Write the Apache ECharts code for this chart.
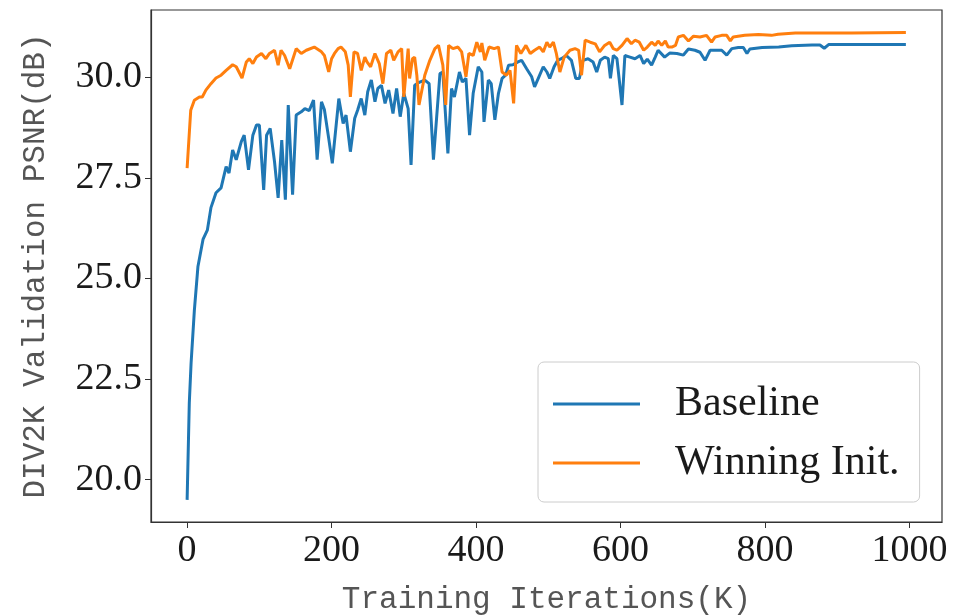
<!DOCTYPE html>
<html>
<head>
<meta charset="utf-8">
<script src="https://cdn.jsdelivr.net/npm/echarts@6/dist/echarts.min.js"></script>
<style>
  html, body { margin: 0; padding: 0; background: #fff; }
  #chart { width: 958px; height: 615px; }
</style>
</head>
<body>
<div id="chart"></div>
<script>
// training iterations (K) and validation PSNR (dB)
const baselineIters = [
  0, 3, 5.5, 10, 15, 22, 28, 33, 40, 47, 54, 58, 63, 68, 75, 79, 85, 91, 96, 100,
  106, 110, 115, 121, 126, 131, 136, 140, 146, 151, 158, 163, 169, 175, 180, 186, 190, 196, 201, 210,
  216, 220, 226, 232, 236, 241, 246, 250, 255, 260, 264, 269, 274, 279, 285, 290, 295, 300, 306, 310,
  315, 322, 329, 335, 341, 350, 354, 361, 366, 370, 377, 381, 386, 391, 396, 403, 408, 411, 417, 421,
  426, 431, 436, 441, 445, 451, 458, 463, 470, 477, 481, 487, 493, 498, 502, 508, 513, 518, 525, 532,
  538, 543, 548, 555, 562, 567, 572, 578, 583, 586, 590, 595, 598, 602, 606, 613, 620, 627, 632, 637,
  643, 648, 652, 661, 668, 678, 687, 694, 703, 710, 717, 724, 733, 740, 747, 754, 763, 770, 775, 779,
  796, 819, 837, 865, 876, 882, 888, 995
];
const baselinePsnr = [
  19.5, 21.9, 22.9, 24.2, 25.3, 25.97, 26.2, 26.76, 27.13, 27.25, 27.78, 27.62, 28.19, 27.95, 28.4, 28.56, 27.7, 28.56, 28.81, 28.81,
  27.2, 28.56, 28.73, 27.9, 27.0, 28.44, 26.96, 29.31, 27.08, 29.06, 29.14, 29.22, 29.17, 29.43, 27.95, 29.39, 29.2, 28.48, 27.86, 29.47,
  28.85, 29.06, 28.15, 28.98, 29.18, 29.47, 29.06, 29.64, 29.93, 29.39, 29.72, 29.8, 29.35, 29.68, 29.1, 29.72, 29.02, 29.6, 29.22, 27.82,
  29.8, 29.88, 29.93, 29.84, 27.95, 30.09, 30.13, 28.11, 29.72, 29.51, 30.13, 29.88, 29.97, 28.56, 29.6, 30.26, 30.13, 28.89, 29.93, 29.84,
  28.94, 29.6, 29.97, 30.05, 30.3, 30.31, 30.38, 30.42, 30.21, 30.01, 29.76, 30.01, 30.26, 30.13, 29.97, 30.26, 30.42, 30.46, 30.54, 30.42,
  29.97, 29.97, 30.42, 30.46, 30.38, 30.13, 30.42, 30.5, 30.46, 29.97, 30.54, 30.46, 29.97, 29.31, 30.54, 30.5, 30.46, 30.54, 30.34, 30.45,
  30.3, 30.5, 30.67, 30.5, 30.6, 30.59, 30.55, 30.7, 30.67, 30.62, 30.42, 30.67, 30.67, 30.67, 30.55, 30.71, 30.74, 30.74, 30.59, 30.7,
  30.74, 30.75, 30.78, 30.8, 30.8, 30.72, 30.81, 30.81
];
const winningIters = [
  0, 5, 10, 17, 21, 26, 33, 40, 47, 54, 63, 68, 76, 82, 86, 91, 96, 103, 109, 114,
  121, 126, 130, 135, 142, 151, 158, 165, 176, 186, 190, 196, 200, 204, 209, 213, 219, 223, 226, 231,
  236, 241, 246, 249, 254, 260, 266, 271, 276, 282, 286, 292, 297, 300, 306, 308, 312, 315, 318, 321,
  329, 336, 343, 348, 354, 358, 362, 368, 375, 380, 386, 390, 396, 401, 406, 408, 412, 418, 425, 431,
  436, 442, 447, 452, 456, 462, 469, 475, 481, 488, 493, 498, 502, 507, 511, 516, 522, 530, 537, 542,
  546, 551, 558, 565, 571, 578, 585, 590, 595, 602, 609, 615, 620, 626, 632, 637, 643, 648, 652, 657,
  662, 666, 671, 676, 680, 687, 694, 701, 710, 719, 726, 731, 740, 747, 752, 756, 772, 791, 809, 818,
  842, 874, 920, 995
];
const winningPsnr = [
  27.74, 29.18, 29.43, 29.51, 29.51, 29.68, 29.84, 29.98, 30.05, 30.17, 30.31, 30.26, 29.98, 30.38, 30.46, 30.34, 30.5, 30.59, 30.46, 30.59,
  30.67, 30.3, 30.67, 30.54, 30.21, 30.71, 30.59, 30.67, 30.75, 30.63, 30.54, 30.13, 30.46, 30.59, 30.71, 30.75, 30.63, 30.3, 29.51, 30.63,
  30.59, 30.17, 30.5, 30.38, 30.26, 30.59, 30.34, 29.84, 30.59, 30.67, 30.42, 30.63, 30.71, 29.51, 30.71, 29.97, 30.46, 30.5, 30.05, 29.31,
  30.05, 30.42, 30.71, 30.79, 30.3, 29.31, 30.79, 30.71, 30.75, 30.63, 30.01, 30.59, 30.54, 30.87, 30.63, 30.85, 30.42, 30.75, 30.71, 30.75,
  30.13, 30.05, 30.17, 29.35, 30.79, 30.59, 30.79, 30.59, 30.67, 30.75, 30.63, 30.87, 30.75, 30.87, 30.6, 30.13, 30.5, 30.67, 30.71, 30.67,
  30.05, 30.92, 30.87, 30.83, 30.63, 30.79, 30.87, 30.71, 30.67, 30.79, 30.96, 30.83, 30.92, 30.87, 30.67, 30.75, 30.87, 30.79, 30.9, 30.79,
  30.9, 30.75, 30.75, 30.79, 31.0, 31.04, 30.9, 31.02, 31.0, 31.04, 30.87, 31.0, 31.04, 31.04, 30.9, 31.0, 31.04, 31.06, 31.04, 31.07,
  31.1, 31.1, 31.1, 31.11
];
const xTicks = [0, 200, 400, 600, 800, 1000];
const yTicks = [20, 22.5, 25, 27.5, 30];

const zip = (xs, ys) => xs.map((x, i) => [x, ys[i]]);

const tickFont = 'Liberation Serif';
const titleFont = 'Liberation Mono';

const chart = echarts.init(document.getElementById('chart'), null, {renderer: 'canvas'});
chart.setOption({
  animation: false,
  grid: {
    left: 151, right: 16, top: 10, bottom: 93,
    outerBoundsMode: 'none',
    show: true, borderColor: '#333', borderWidth: 1.2
  },
  legend: {
    orient: 'vertical',
    left: 538, top: 362,
    padding: [19, 20, 16, 15],
    itemGap: 13,
    itemWidth: 87, itemHeight: 3,
    icon: 'rect',
    backgroundColor: 'rgba(255,255,255,0.8)',
    borderColor: '#ccc', borderWidth: 1, borderRadius: 6,
    textStyle: {
      fontFamily: tickFont, fontSize: 42, color: '#1a1a1a',
      lineHeight: 46, padding: [0, 0, 0, 30]
    },
    data: ['Baseline', 'Winning Init.']
  },
  xAxis: {
    type: 'value', min: -50, max: 1045,
    name: 'Training Iterations(K)',
    nameLocation: 'middle', nameGap: 62,
    nameTextStyle: {fontFamily: titleFont, fontSize: 31, color: '#555'},
    splitLine: {show: false},
    axisLine: {show: true, onZero: false, lineStyle: {color: '#333', width: 1.2}},
    axisTick: {show: true, length: 6, customValues: xTicks, lineStyle: {color: '#333'}},
    axisLabel: {
      customValues: xTicks, margin: 10,
      fontFamily: tickFont, fontSize: 38, color: '#1a1a1a',
      formatter: v => String(v)
    }
  },
  yAxis: {
    type: 'value', min: 18.95, max: 31.67,
    name: 'DIV2K Validation PSNR(dB)',
    nameLocation: 'middle', nameGap: 100,
    nameTextStyle: {fontFamily: titleFont, fontSize: 31, color: '#555'},
    splitLine: {show: false},
    axisLine: {show: true, onZero: false, lineStyle: {color: '#333', width: 1.2}},
    axisTick: {show: true, length: 6, customValues: yTicks, lineStyle: {color: '#333'}},
    axisLabel: {
      customValues: yTicks, margin: 9,
      fontFamily: tickFont, fontSize: 38, color: '#1a1a1a',
      formatter: v => v.toFixed(1)
    }
  },
  series: [
    {
      name: 'Baseline', type: 'line', symbol: 'none',
      color: '#1f77b4',
      lineStyle: {width: 3},
      data: zip(baselineIters, baselinePsnr)
    },
    {
      name: 'Winning Init.', type: 'line', symbol: 'none',
      color: '#ff7f0e',
      lineStyle: {width: 3},
      data: zip(winningIters, winningPsnr)
    }
  ]
});
</script>
</body>
</html>
